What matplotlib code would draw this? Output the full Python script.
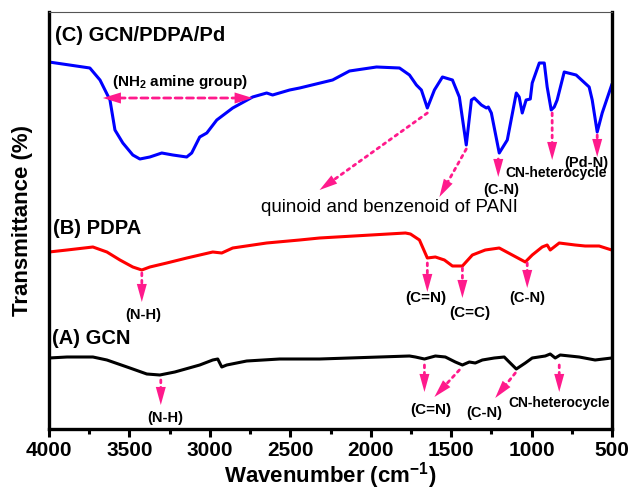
import numpy as np
import matplotlib.pyplot as plt

plt.rcParams['font.family'] = ['Liberation Sans', 'DejaVu Sans']
plt.rcParams['mathtext.fontset'] = 'custom'
plt.rcParams['mathtext.rm'] = 'Liberation Sans:bold'
plt.rcParams['mathtext.bf'] = 'Liberation Sans:bold'

# spectra (wavenumber in cm-1, transmittance in arbitrary offset units)
wn_c = [4000, 3746, 3683, 3621, 3590, 3541, 3479, 3435, 3373, 3299, 3230, 3144, 3113, 3063, 3019,
        2957, 2858, 2734, 2647, 2610, 2504, 2442, 2237, 2132, 1964, 1821, 1759, 1716, 1685, 1648,
        1604, 1554, 1492, 1449, 1406, 1374, 1356, 1312, 1281, 1269, 1250, 1201, 1151, 1095, 1077,
        1058, 1034, 1008, 996, 952, 921, 903, 878, 859, 841, 797, 723, 642, 623, 592, 561, 502]
t_c = [367, 361, 349, 329, 299, 286, 274, 270, 272, 276, 274, 272, 276, 292, 296,
       309, 321, 332, 336, 334, 339, 341, 349, 358, 362, 361, 354, 344, 339, 321,
       339, 352, 349, 332, 284, 329, 331, 324, 321, 322, 316, 276, 289, 336, 332,
       316, 329, 330, 346, 366, 366, 342, 319, 322, 329, 357, 354, 342, 329, 297, 316, 344]

wn_b = [4000, 3888, 3727, 3640, 3559, 3479, 3423, 3373, 3268, 3143, 2982, 2926, 2858, 2647, 2442,
        2318, 1784, 1753, 1697, 1648, 1598, 1542, 1492, 1430, 1368, 1288, 1201, 1120, 1039, 996,
        934, 903, 884, 828, 729, 667, 580, 502]
t_b = [177, 179, 182, 177, 169, 162, 159, 162, 166, 171, 177, 176, 181, 186, 189,
       191, 196, 195, 189, 171, 172, 169, 163, 163, 174, 179, 181, 174, 167, 174,
       182, 184, 179, 186, 184, 183, 183, 179]

wn_a = [4000, 3888, 3727, 3640, 3497, 3392, 3311, 3218, 3063, 2982, 2951, 2926, 2895, 2771, 2566,
        2318, 1759, 1722, 1666, 1598, 1536, 1474, 1430, 1387, 1350, 1306, 1232, 1170, 1139, 1095,
        1039, 996, 915, 884, 853, 822, 704, 605, 502]
t_a = [71, 72, 72, 69, 61, 55, 54, 57, 64, 69, 70, 62, 64, 68, 70,
       70, 73, 72, 70, 73, 72, 67, 64, 67, 66, 69, 71, 72, 67, 60,
       66, 71, 73, 75, 71, 74, 72, 69, 71]

# band arrows: (start wn, start T, tip wn, tip T)
arrows = [
    (1648, 316, 2318, 239), (1406, 280, 1573, 232),
    (1207, 270, 1207, 252), (872, 316, 872, 269), (592, 294, 592, 272),
    (3423, 156, 3423, 127), (1648, 166, 1648, 137), (1430, 161, 1430, 131), (1027, 166, 1027, 141),
    (3305, 49, 3305, 24), (1666, 64, 1666, 37), (1449, 59, 1604, 32),
    (1101, 56, 1226, 31), (828, 64, 828, 37),
]

# band labels: (text, wn, T, size)
band_labels = [
    ('(C-N)', 1188, 239, 10.5), ('CN-heterocycle', 847, 256, 10), ('(Pd-N)', 661, 266, 10.5),
    ('(N-H)', 3417, 114, 10.5), ('(C=N)', 1660, 131, 11), ('(C=C)', 1381, 116, 11), ('(C-N)', 1027, 131, 10.5),
    ('(N-H)', 3280, 11, 10.5), ('(C=N)', 1629, 19, 11), ('(C-N)', 1294, 16, 10.5),
    ('CN-heterocycle', 828, 26, 10),
]

pink = '#ff1a8c'
head = 'head_length=1.3,head_width=0.36'

fig = plt.figure(figsize=(6.33, 4.95), dpi=100)
ax = fig.add_axes([49 / 633, 1 - 429 / 495, 563 / 633, 417 / 495])

ax.plot(wn_c, t_c, color='#0000ff', lw=2.2, solid_joinstyle='round')
ax.plot(wn_b, t_b, color='#ff0000', lw=2.2, solid_joinstyle='round')
ax.plot(wn_a, t_a, color='black', lw=2.2, solid_joinstyle='round')

for x0, y0, x1, y1 in arrows:
    # dotted shaft, then a solid filled head on top
    ax.annotate('', xy=(x1, y1), xytext=(x0, y0),
                arrowprops=dict(arrowstyle='-', color=pink, lw=2, linestyle=':',
                                capstyle='round', shrinkA=0, shrinkB=11))
    ax.annotate('', xy=(x1, y1), xytext=(x0, y0),
                arrowprops=dict(arrowstyle='-|>,' + head, color=pink, lw=0,
                                shrinkA=0, shrinkB=0))

# NH2 double arrow
ax.annotate('', xy=(2734, 331), xytext=(3665, 331),
            arrowprops=dict(arrowstyle='-', color=pink, lw=2, linestyle=(0, (2.5, 1.6)),
                            shrinkA=11, shrinkB=11))
ax.annotate('', xy=(2734, 331), xytext=(3665, 331),
            arrowprops=dict(arrowstyle='<|-|>,head_length=1.3,head_width=0.4', color=pink, lw=0,
                            shrinkA=0, shrinkB=0))
ax.text(3187, 347, r'(NH$_{2}$ amine group)', ha='center', va='center',
        fontsize=11, fontweight='bold')

for txt, x, y, s in band_labels:
    ax.text(x, y, txt, ha='center', va='center', fontsize=s, fontweight='bold')

ax.text(1883, 222, 'quinoid and benzenoid of PANI', ha='center', va='center', fontsize=13.5)

ax.text(3963, 394, '(C) GCN/PDPA/Pd', ha='left', va='center', fontsize=14.5, fontweight='bold')
ax.text(3975, 201, '(B) PDPA', ha='left', va='center', fontsize=14.5, fontweight='bold')
ax.text(3981, 91, '(A) GCN', ha='left', va='center', fontsize=14.5, fontweight='bold')

ax.set_xlim(4000, 500)
ax.set_ylim(0, 417)
ax.set_xticks(np.arange(500, 4001, 500))
ax.set_xticks(np.arange(750, 4000, 500), minor=True)
ax.set_yticks([])
ax.tick_params(axis='x', which='major', direction='out', length=6, width=2.2, pad=3, labelsize=15)
ax.tick_params(axis='x', which='minor', direction='out', length=3.5, width=2.2)
for lab in ax.get_xticklabels():
    lab.set_fontweight('bold')

for side in ['left', 'right', 'bottom']:
    ax.spines[side].set_linewidth(2.4)
ax.spines['top'].set_linewidth(0.8)
ax.spines['top'].set_color('#555555')

ax.set_xlabel(r'Wavenumber (cm$^{-1}$)', fontsize=16, fontweight='bold')
ax.xaxis.set_label_coords(0.5, -0.075)
ax.set_ylabel('Transmittance (%)', fontsize=16, fontweight='bold')
ax.yaxis.set_label_coords(-0.028, 0.5)

fig.savefig('out.png', dpi=100)
